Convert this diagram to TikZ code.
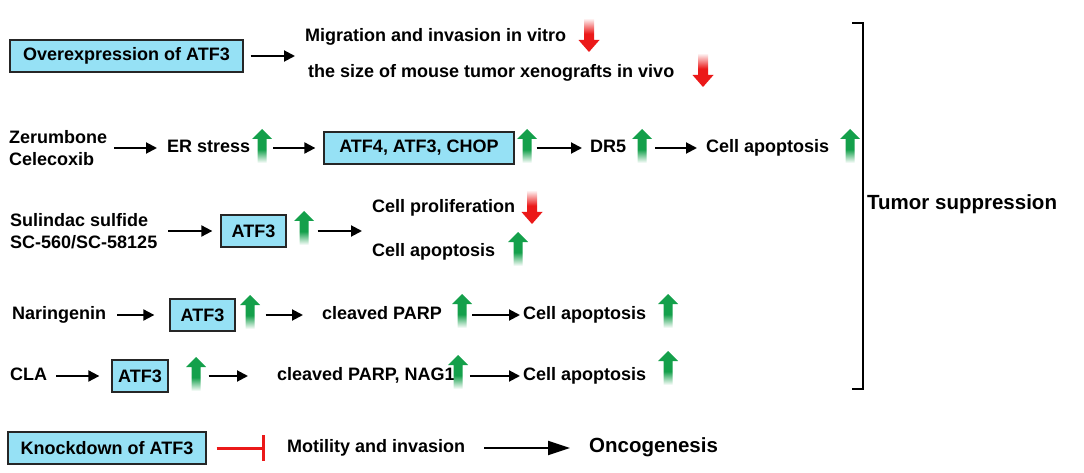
\documentclass[tikz,border=0pt]{standalone}
\usepackage{fontspec}
\setmainfont{Liberation Sans}
\usetikzlibrary{arrows.meta}
\definecolor{boxcyan}{RGB}{150,225,245}
\definecolor{arrgreen}{RGB}{20,160,75}
\definecolor{arrred}{RGB}{235,25,25}
\pgfdeclareverticalshading{greenfade}{100bp}{color(0bp)=(white); color(25bp)=(white); color(45bp)=(arrgreen); color(100bp)=(arrgreen)}
\pgfdeclareverticalshading{redfade}{100bp}{color(0bp)=(arrred); color(52bp)=(arrred); color(75bp)=(white); color(100bp)=(white)}
\tikzset{
  lbl/.style={anchor=west, inner sep=0pt, text height=13pt, text depth=4pt, font=\bfseries\fontsize{18}{22}\selectfont},
  lbltwo/.style={anchor=west, inner sep=0pt, align=left, font=\bfseries\fontsize{18}{22}\selectfont},
  atfbox/.style={draw=black!85, line width=1.3pt, fill=boxcyan, inner sep=0pt, minimum height=32pt, font=\bfseries\fontsize{18}{22}\selectfont},
  conn/.style={-{Triangle[length=11pt,width=11pt]}, line width=2pt},
  pics/upar/.style={code={\shade[shading=greenfade] (-4.5,17) -- (-4.5,-7) -- (-10,-7) -- (0,-17) -- (10,-7) -- (4.5,-7) -- (4.5,17) -- cycle;}},
  pics/downar/.style={code={\shade[shading=redfade] (-5,-17) -- (-5,5) -- (-10.5,5) -- (0,17) -- (10.5,5) -- (5,5) -- (5,-17) -- cycle;}},
}
\begin{document}
\begin{tikzpicture}[x=1pt,y=-1pt]
\useasboundingbox (0,0) rectangle (1084,473);

%Overexpression
\node[atfbox, minimum width=233pt] (over) at (126.5,56) {Overexpression of ATF3};
\coordinate (res1) at (295,56);
\node[lbl] (mig) at (305,37) {Migration and invasion in vitro};
\node[lbl] (size) at (308,73) {the size of mouse tumor xenografts in vivo};
\draw[conn, shorten <=7pt] (over.east) -- (res1);
\pic at (589,35) {downar};
\pic at (703,70) {downar};

%Zerumbone, Celecoxib
\node[lbltwo] (drug2) at (9,148) {Zerumbone\\Celecoxib};
\node[lbl] (er) at (167,148) {ER stress};
\node[atfbox, minimum width=190pt] (chop) at (419,148) {ATF4, ATF3, CHOP};
\node[lbl] (dr5) at (590,148) {DR5};
\node[lbl] (apop2) at (706,148) {Cell apoptosis};
\draw[conn, shorten <=7pt, shorten >=10pt] (drug2.east) -- (er.west);
\draw[conn, shorten <=23pt, shorten >=8pt] (er.east) -- (chop.west);
\draw[conn, shorten <=22pt, shorten >=8pt] (chop.east) -- (dr5.west);
\draw[conn, shorten <=29pt, shorten >=9pt] (dr5.east) -- (apop2.west);
\pic at (262,146) {upar};
\pic at (527,146) {upar};
\pic at (642,146) {upar};
\pic at (850,146) {upar};

%Sulindac sulfide
\node[lbltwo] (drug3) at (10,231) {Sulindac sulfide\\SC-560/SC-58125};
\node[atfbox, minimum width=65pt] (atfa) at (253.5,231) {ATF3};
\coordinate (res3) at (362,231);
\node[lbl] (prolif) at (372,208) {Cell proliferation};
\node[lbl] (apop3) at (372,252) {Cell apoptosis};
\draw[conn, shorten <=11pt, shorten >=8pt] (drug3.east) -- (atfa.west);
\draw[conn, shorten <=31pt] (atfa.east) -- (res3);
\pic at (304,228) {upar};
\pic at (532,207) {downar};
\pic at (518,249) {upar};

%Naringenin
\node[lbl] (nar) at (12,315) {Naringenin};
\node[atfbox, minimum width=65pt] (atfb) at (202.5,315) {ATF3};
\node[lbl] (clv4) at (322,315) {cleaved PARP};
\node[lbl] (apop4) at (523,315) {Cell apoptosis};
\draw[conn, shorten <=11pt, shorten >=15pt] (nar.east) -- (atfb.west);
\draw[conn, shorten <=30pt, shorten >=19pt] (atfb.east) -- (clv4.west);
\draw[conn, shorten <=30pt, shorten >=3pt] (clv4.east) -- (apop4.west);
\pic at (250,312) {upar};
\pic at (462,311) {upar};
\pic at (668,311) {upar};

%CLA
\node[lbl] (cla) at (10,376) {CLA};
\node[atfbox, minimum width=56pt] (atfc) at (140,376) {ATF3};
\node[lbl] (clv5) at (277,376) {cleaved PARP, NAG1};
\node[lbl] (apop5) at (523,376) {Cell apoptosis};
\draw[conn, shorten <=9pt, shorten >=12pt] (cla.east) -- (atfc.west);
\draw[conn, shorten <=40pt, shorten >=29pt] (atfc.east) -- (clv5.west);
\draw[conn, shorten <=15pt, shorten >=3pt] (clv5.east) -- (apop5.west);
\pic at (196,374) {upar};
\pic at (458,372) {upar};
\pic at (668,368) {upar};

%Knockdown
\node[atfbox, minimum width=198pt] (knock) at (107,448) {Knockdown of ATF3};
\node[lbl] (mot) at (287,448) {Motility and invasion};
\node[lbl, font=\bfseries\fontsize{20.5}{24}\selectfont] (onco) at (589,448) {Oncogenesis};
\draw[draw=arrred, line width=3pt, -{Bar[width=26pt,line width=3pt]}, shorten <=10pt, shorten >=22pt] (knock.east) -- (mot.west);
\draw[-{Triangle[length=22pt,width=14pt]}, line width=2pt, shorten <=19pt, shorten >=19pt] (mot.east) -- (onco.west);

%Tumor suppression
\coordinate (brtop) at (852,23);
\coordinate (brbot) at (852,389);
\draw[line width=1.5pt] (brtop) -- ++(11,0) |- (brbot);
\node[lbl, font=\bfseries\fontsize{20.5}{24}\selectfont] (tumor) at (867,205) {Tumor suppression};
\end{tikzpicture}
\end{document}
